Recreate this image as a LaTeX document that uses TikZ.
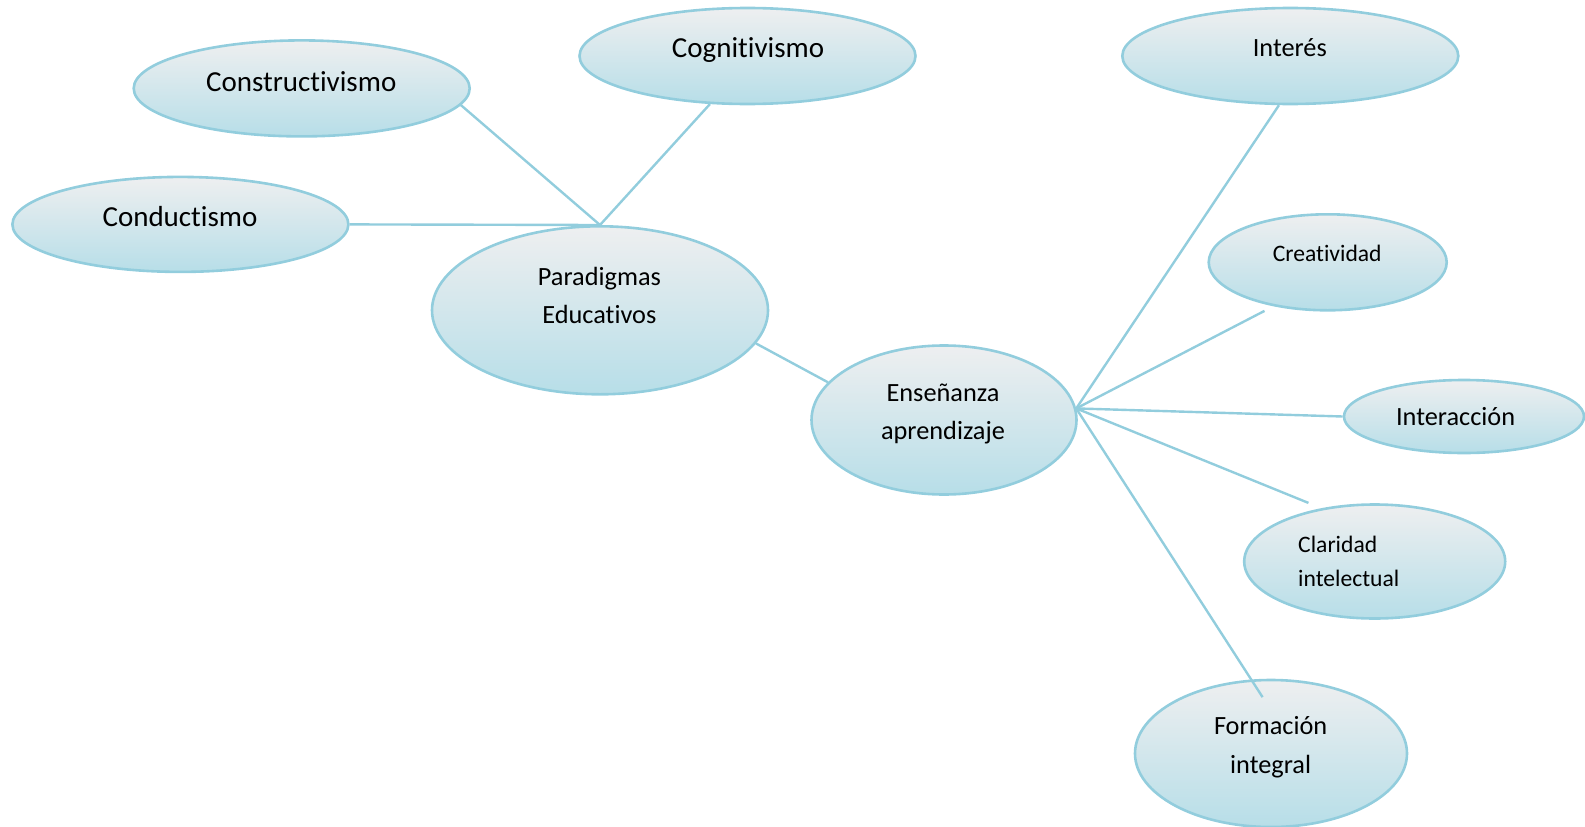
\documentclass[tikz,border=0pt]{standalone}
\usepackage{fontspec}
\setmainfont{Carlito}[RawFeature={-liga;-clig}]
\usetikzlibrary{shapes.geometric}
\definecolor{edge}{RGB}{146,205,221}
\definecolor{topc}{RGB}{238,239,240}
\definecolor{botc}{RGB}{183,222,232}
\tikzset{
  blob/.style={ellipse, draw=edge, line width=2.6pt, top color=topc, bottom color=botc, inner sep=0pt},
  conn/.style={draw=edge, line width=2.4pt},
  big/.style={font=\fontsize{29}{36}\selectfont, inner sep=0pt},
  mid/.style={font=\fontsize{26.3}{38.4}\selectfont, inner sep=0pt, align=center},
  small/.style={font=\fontsize{23.6}{33.4}\selectfont, inner sep=0pt},
}
\begin{document}
\begin{tikzpicture}[x=1pt,y=-1pt]
\useasboundingbox (0,0) rectangle (1585,827);
% ellipses
\node[blob, minimum width=336, minimum height=96] (constr) at (301.7,88.4) {};
\node[blob, minimum width=336, minimum height=96] (cogn) at (747.5,56) {};
\node[blob, minimum width=336, minimum height=95] (cond) at (180.4,224.4) {};
\node[blob, minimum width=336, minimum height=168] (parad) at (600,310.3) {};
\node[blob, minimum width=265, minimum height=149] (ens) at (944,420) {};
\node[blob, minimum width=336, minimum height=96] (inte) at (1290.3,56) {};
\node[blob, minimum width=238, minimum height=96] (crea) at (1327.7,262.3) {};
\node[blob, minimum width=240, minimum height=73] (inter) at (1464,416.5) {};
\node[blob, minimum width=261, minimum height=114] (clar) at (1374.7,561.5) {};
\node[blob, minimum width=272, minimum height=147] (form) at (1271,753.5) {};
% labels
\node[big] (tconstr) at (301.2,81.5) {Constructivismo};
\node[big] (tcogn) at (748,50.5) {Cognitivismo};
\node[big] (tcond) at (180,216.8) {Conductismo};
\node[mid] (tparad) at (599.4,295.4) {Paradigmas\\Educativos};
\node[mid] (tens) at (943,413.8) {Enseñanza\\aprendizaje};
\node[mid] (tinte) at (1289.8,48) {Interés};
\node[small] (tcrea) at (1327.2,253.2) {Creatividad};
\node[mid] (tinter) at (1455.6,417) {Interacción};
\node[small, align=left, anchor=west] (tclar) at (1298,561.5) {Claridad\\intelectual};
\node[mid] (tform) at (1270.6,747.2) {Formación\\integral};
% connectors
\draw[conn] (cond.east) -- (parad.north);
\draw[conn] (constr.-6) -- (parad.north);
\draw[conn] (cogn.232) -- (parad.north);
\draw[conn] (parad.-12) -- (ens.162);
\draw[conn] (ens.5) -- (inte.257);
\draw[conn, shorten >=10pt] (ens.5) -- (crea.219);
\draw[conn] (ens.5) -- (inter.west);
\draw[conn, shorten >=14pt] (ens.5) -- (clar.135);
\draw[conn, shorten >=-21pt] (ens.5) -- (form.105);
\end{tikzpicture}
\end{document}
